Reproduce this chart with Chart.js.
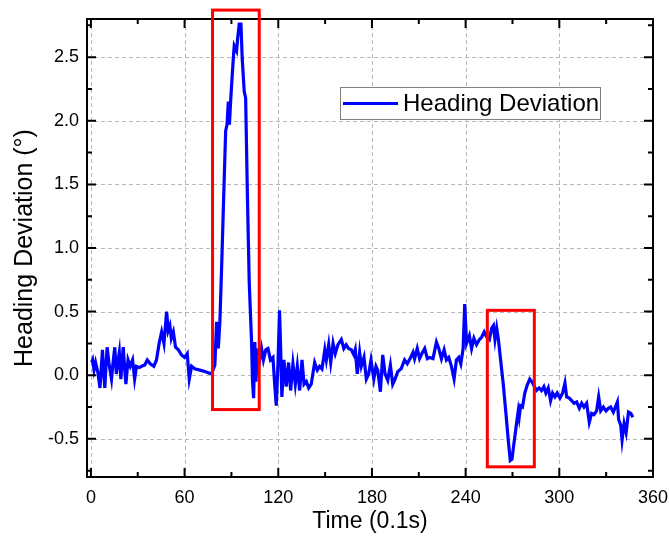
<!DOCTYPE html>
<html>
<head>
<meta charset="utf-8">
<script src="https://cdn.jsdelivr.net/npm/chart.js@4"></script>
<style>
  html, body { margin: 0; padding: 0; background: #fff; }
  #wrap { width: 669px; height: 538px; }
</style>
</head>
<body>
<div id="wrap"><canvas id="chart" width="669" height="538"></canvas></div>
<script>
// time in units of 0.1 s
const times = [
  0.5, 1.1, 2.0, 3.0, 4.5, 5.8, 6.6, 7.4, 8.2, 8.9, 9.7, 10.4, 11.5, 12.3, 13.2, 14.2, 15.3, 16.3, 17.0, 18.2,
  19.2, 20.7, 21.5, 22.4, 23.8, 25.2, 26.7, 28.0, 29.2, 31.0, 32.5, 34.5, 36.1, 38.0, 40.3, 42.0, 43.7, 45.3, 46.8, 48.5,
  49.5, 50.6, 51.5, 52.8, 54.2, 56.0, 58.0, 60.0, 61.7, 63.0, 64.5, 66.5, 69.8, 73.0, 77.3, 79.4, 80.5, 81.6, 82.6, 83.7,
  84.7, 86.3, 87.2, 88.0, 88.7, 89.7, 91.2, 91.8, 93.3, 94.0, 95.0, 96.1, 96.9, 98.2, 99.1, 100.3, 101.4, 102.9, 103.5, 104.2,
  105.0, 105.7, 106.7, 107.8, 109.3, 110.5, 112.0, 113.4, 115.0, 116.6, 117.7, 118.7, 119.8, 120.8, 121.5, 122.3, 123.6, 125.1, 126.6, 127.9,
  129.4, 130.9, 132.2, 133.7, 135.2, 136.5, 138.0, 139.5, 141.1, 143.3, 145.0, 146.5, 148.0, 149.8, 150.8, 152.3, 153.6, 155.1, 156.5, 158.2,
  160.4, 162.0, 163.5, 165.0, 166.8, 168.4, 169.3, 170.6, 172.1, 173.2, 174.9, 176.4, 177.9, 179.4, 181.2, 182.6, 183.7, 185.4, 186.9, 188.4,
  190.1, 191.8, 193.3, 194.8, 196.6, 198.7, 200.9, 202.6, 204.8, 206.3, 207.3, 209.0, 210.5, 212.0, 213.8, 215.5, 217.0, 219.1, 221.3, 222.8,
  224.5, 226.2, 227.7, 229.2, 230.9, 232.6, 234.1, 235.6, 236.9, 238.4, 239.4, 240.6, 242.4, 243.8, 245.3, 247.0, 248.8, 250.3, 251.9, 253.5,
  255.2, 256.7, 257.8, 258.8, 259.9, 261.0, 262.4, 264.1, 265.8, 267.3, 268.6, 269.7, 270.9, 272.6, 273.7, 274.3, 275.2, 276.4, 277.9, 279.4,
  281.1, 282.4, 283.7, 285.4, 287.1, 288.6, 290.1, 291.4, 292.9, 294.4, 295.7, 297.2, 298.6, 300.4, 302.1, 303.6, 304.7, 306.4, 307.9, 309.4,
  311.1, 312.8, 314.3, 315.8, 317.5, 319.2, 320.7, 322.2, 323.9, 325.2, 326.5, 328.2, 329.9, 331.4, 332.9, 334.6, 335.9, 337.2, 338.0, 339.3,
  340.2, 341.5, 342.8, 344.3, 345.8, 347.1
];

// heading deviation in degrees
const heading = [
  0.10, 0.12, 0.04, 0.10, 0.02, -0.10, 0.05, 0.20, 0.02, -0.10, 0.08, 0.22, 0.10, 0.04, -0.03, 0.10, 0.22, 0.01, 0.08, 0.18,
  -0.03, 0.22, 0.08, -0.07, 0.12, 0.07, 0.12, -0.03, 0.07, 0.06, 0.07, 0.08, 0.12, 0.09, 0.07, 0.12, 0.25, 0.34, 0.25, 0.50,
  0.35, 0.39, 0.29, 0.34, 0.22, 0.20, 0.16, 0.14, 0.17, -0.03, 0.07, 0.05, 0.04, 0.03, 0.01, 0.08, 0.42, 0.21, 0.42, 0.84,
  1.26, 1.92, 1.97, 2.15, 1.97, 2.20, 2.49, 2.59, 2.55, 2.65, 2.76, 2.76, 2.49, 2.23, 2.18, 1.37, 0.73, 0.26, -0.05, -0.18,
  0.26, -0.05, 0.21, 0.10, 0.21, 0.12, 0.20, 0.21, 0.12, 0.14, -0.07, -0.24, 0.09, 0.51, 0.22, -0.17, 0.12, -0.09, 0.10, -0.12,
  0.09, -0.07, 0.07, -0.12, 0.12, -0.07, -0.05, -0.10, -0.07, 0.10, 0.04, 0.07, 0.05, 0.20, 0.12, 0.24, 0.10, 0.25, 0.17, 0.24,
  0.28, 0.21, 0.24, 0.21, 0.20, 0.16, 0.20, 0.01, 0.18, 0.07, 0.14, -0.03, 0.01, 0.12, -0.03, 0.07, 0.04, -0.13, 0.16, 0.01,
  -0.04, 0.08, -0.07, -0.03, 0.03, 0.05, 0.12, 0.09, 0.14, 0.18, 0.13, 0.21, 0.13, 0.17, 0.21, 0.13, 0.14, 0.13, 0.26, 0.21,
  0.13, 0.20, 0.12, 0.14, 0.07, -0.03, 0.12, 0.14, 0.09, 0.21, 0.56, 0.25, 0.31, 0.21, 0.29, 0.24, 0.28, 0.30, 0.34, 0.30,
  0.28, 0.37, 0.39, 0.28, 0.37, 0.28, 0.12, -0.07, -0.30, -0.51, -0.67, -0.66, -0.54, -0.38, -0.28, -0.33, -0.24, -0.25, -0.14, -0.08,
  -0.03, -0.05, -0.08, -0.12, -0.10, -0.12, -0.09, -0.14, -0.10, -0.20, -0.14, -0.17, -0.14, -0.18, -0.14, -0.06, -0.17, -0.18, -0.20, -0.22,
  -0.21, -0.26, -0.22, -0.25, -0.22, -0.37, -0.30, -0.31, -0.28, -0.17, -0.28, -0.25, -0.28, -0.26, -0.25, -0.29, -0.25, -0.21, -0.35, -0.39,
  -0.51, -0.38, -0.45, -0.29, -0.30, -0.33
];

// labelled ticks
const xLabels = [0, 60, 120, 180, 240, 300, 360];
const yLabels = [-0.5, 0.0, 0.5, 1.0, 1.5, 2.0, 2.5];

// highlighted regions: [t start, t end] and [low, high]
const boxT = [[77.9, 107.8], [253.9, 284.0]];
const boxV = [[-0.27, 2.87], [-0.72, 0.51]];

const FONT = '"Liberation Sans", Arial, sans-serif';
const isMajor = (list, v) => list.some(m => Math.abs(m - v) < 1e-6);

const decorations = {
  id: 'decorations',
  beforeDatasetsDraw(chart) {
    const { ctx, chartArea: a, scales: { x, y } } = chart;
    ctx.save();
    ctx.strokeStyle = '#b8b8b8';
    ctx.lineWidth = 1;
    ctx.setLineDash([4, 3]);
    ctx.beginPath();
    xLabels.forEach(v => {
      const p = Math.round(x.getPixelForValue(v)) + 0.5;
      ctx.moveTo(p, a.top); ctx.lineTo(p, a.bottom);
    });
    yLabels.forEach(v => {
      const p = Math.round(y.getPixelForValue(v)) + 0.5;
      ctx.moveTo(a.left, p); ctx.lineTo(a.right, p);
    });
    ctx.stroke();
    ctx.restore();
  },
  afterDatasetsDraw(chart) {
    const { ctx, chartArea: a, scales: { x, y } } = chart;
    ctx.save();
    // frame
    ctx.strokeStyle = '#000';
    ctx.lineWidth = 2;
    ctx.strokeRect(a.left, a.top, a.right - a.left, a.bottom - a.top);
    // inward ticks on all four sides
    ctx.beginPath();
    x.ticks.forEach(t => {
      const len = isMajor(xLabels, t.value) ? 9 : 5;
      const p = x.getPixelForValue(t.value);
      ctx.moveTo(p, a.bottom); ctx.lineTo(p, a.bottom - len);
      ctx.moveTo(p, a.top); ctx.lineTo(p, a.top + len);
    });
    y.ticks.forEach(t => {
      const len = isMajor(yLabels, t.value) ? 9 : 5;
      const p = y.getPixelForValue(t.value);
      ctx.moveTo(a.left, p); ctx.lineTo(a.left + len, p);
      ctx.moveTo(a.right, p); ctx.lineTo(a.right - len, p);
    });
    ctx.stroke();
    // red boxes
    ctx.strokeStyle = '#ff0000';
    ctx.lineWidth = 3;
    boxT.forEach((bt, i) => {
      const x0 = x.getPixelForValue(bt[0]), x1 = x.getPixelForValue(bt[1]);
      const y0 = y.getPixelForValue(boxV[i][1]), y1 = y.getPixelForValue(boxV[i][0]);
      ctx.strokeRect(x0, y0, x1 - x0, y1 - y0);
    });
    // legend
    const lx = 340, ly = 87, lw = 260, lh = 32;
    ctx.fillStyle = '#fff';
    ctx.fillRect(lx, ly, lw, lh);
    ctx.strokeStyle = '#808080';
    ctx.lineWidth = 1;
    ctx.strokeRect(lx + 0.5, ly + 0.5, lw, lh);
    ctx.strokeStyle = '#0000ff';
    ctx.lineWidth = 3;
    ctx.beginPath();
    ctx.moveTo(lx + 3, ly + 16.5); ctx.lineTo(lx + 58, ly + 16.5);
    ctx.stroke();
    ctx.fillStyle = '#000';
    ctx.font = '24px ' + FONT;
    ctx.textBaseline = 'middle';
    ctx.fillText(chart.data.datasets[0].label, lx + 63, ly + 17);
    ctx.restore();
  }
};

new Chart(document.getElementById('chart'), {
  type: 'line',
  data: {
    datasets: [{
      label: 'Heading Deviation',
      data: times.map((t, i) => ({ x: t, y: heading[i] })),
      borderColor: '#0000ff',
      borderWidth: 3.2,
      pointRadius: 0,
      tension: 0,
      fill: false
    }]
  },
  options: {
    responsive: false,
    animation: false,
    layout: { padding: { top: 19, right: 16, left: 0, bottom: 0 } },
    plugins: { legend: { display: false }, tooltip: { enabled: false } },
    scales: {
      x: {
        type: 'linear',
        min: -2.5,
        max: 360,
        afterFit: s => { s.height = 61; s.paddingLeft = 0; s.paddingRight = 0; },
        grid: { display: false, drawTicks: false },
        border: { display: false },
        ticks: {
          stepSize: 30,
          includeBounds: false,
          autoSkip: false,
          maxRotation: 0,
          padding: 10,
          color: '#000',
          font: { family: FONT, size: 18 },
          callback: v => isMajor(xLabels, v) ? String(v) : ''
        },
        title: {
          display: true,
          text: 'Time (0.1s)',
          color: '#000',
          font: { family: FONT, size: 23 },
          padding: { top: 0, bottom: 3 }
        }
      },
      y: {
        type: 'linear',
        min: -0.8,
        max: 2.8,
        afterFit: s => { s.width = 87; s.paddingTop = 0; s.paddingBottom = 0; },
        grid: { display: false, drawTicks: false },
        border: { display: false },
        ticks: {
          stepSize: 0.25,
          includeBounds: false,
          autoSkip: false,
          padding: 8,
          color: '#000',
          font: { family: FONT, size: 18 },
          callback: v => isMajor(yLabels, v) ? v.toFixed(1) : ''
        },
        title: {
          display: true,
          text: 'Heading Deviation (°)',
          color: '#000',
          font: { family: FONT, size: 25 },
          padding: { top: 10, bottom: 0 }
        }
      }
    }
  },
  plugins: [decorations]
});
</script>
</body>
</html>
